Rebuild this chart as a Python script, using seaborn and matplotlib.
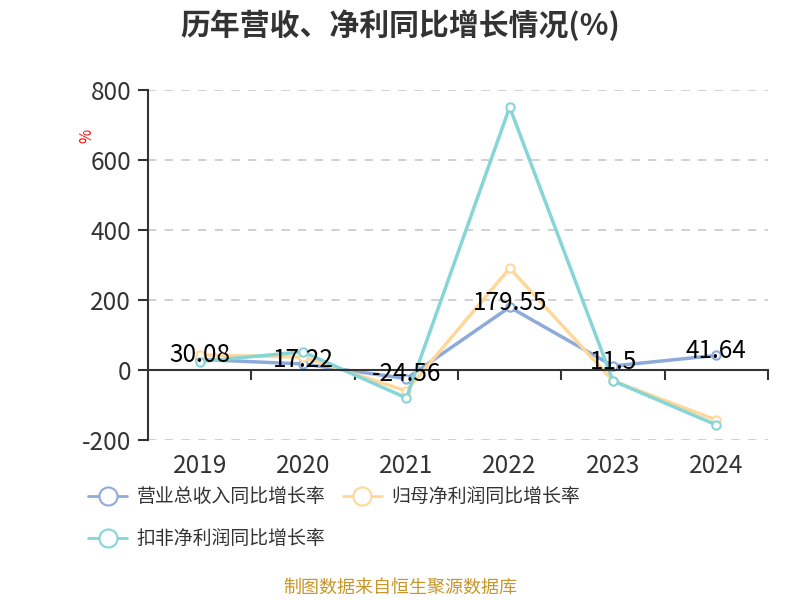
import pandas as pd
import matplotlib
matplotlib.use('Agg')
import matplotlib.pyplot as plt
import seaborn as sns
from matplotlib.lines import Line2D

# === DONNEES ===
years = ["2019", "2020", "2021", "2022", "2023", "2024"]
revenue_growth = [30.08, 17.22, -24.56, 179.55, 11.5, 41.64]
parent_profit_growth = [43, 37, -60, 291, -31, -143]
deducted_profit_growth = [24, 52, -80, 751, -31, -157]
series_names = ["营业总收入同比增长率", "归母净利润同比增长率", "扣非净利润同比增长率"]
colors = ["#8eaadb", "#ffd899", "#86d5d8"]
y_ticks = [-200, 0, 200, 400, 600, 800]

sns.set_style("white")
plt.rcParams["font.family"] = ["Noto Sans CJK SC", "DejaVu Sans"]

df = pd.DataFrame({
    "year": list(range(len(years))) * 3,
    "value": revenue_growth + parent_profit_growth + deducted_profit_growth,
    "serie": [s for s in series_names for _ in years],
})

fig = plt.figure(figsize=(8, 6), dpi=100)
ax = fig.add_axes([0.185, 0.2667, 0.775, 0.5833])

sns.lineplot(data=df, x="year", y="value", hue="serie", palette=colors,
             hue_order=series_names, linewidth=2.5, marker="o", markersize=6,
             markerfacecolor="white", markeredgewidth=1.5, legend=False, ax=ax)
# bord des marqueurs = couleur de la ligne
for line, c in zip(ax.lines, colors):
    line.set_markeredgecolor(c)

ax.set_xlim(-0.5, len(years) - 0.5)
ax.set_ylim(-200, 800)
ax.set_yticks(y_ticks)
ax.set_yticklabels([str(t) for t in y_ticks], fontsize=17.5, color="#333333")
for t in y_ticks:
    if t != 0:
        ax.axhline(t, color="#c8c8c8", linestyle=(0, (5, 5)), linewidth=1.2, zorder=0)

ax.spines["top"].set_visible(False)
ax.spines["right"].set_visible(False)
ax.spines["left"].set_color("#333333")
ax.spines["left"].set_linewidth(1.5)
ax.spines["bottom"].set_position(("data", 0))
ax.spines["bottom"].set_color("#333333")
ax.spines["bottom"].set_linewidth(1.5)

ax.set_xticks(range(len(years)))
ax.set_xticklabels([])
ax.tick_params(axis="x", which="major", length=0, bottom=True)
ax.set_xticks([i + 0.5 for i in range(len(years))], minor=True)
ax.tick_params(axis="x", which="minor", length=7, width=1.5, color="#333333",
               direction="out", bottom=True)
ax.tick_params(axis="y", length=7, width=1.5, color="#333333", direction="out",
               pad=5, left=True)
for i, yr in enumerate(years):
    ax.text(i, -0.075, yr, transform=ax.get_xaxis_transform(), ha="center", va="center",
            fontsize=17.5, color="#333333")

ax.set_xlabel("")
ax.set_ylabel("%", color="red", fontsize=11, rotation=90)
ax.yaxis.set_label_coords(-0.085, 0.87)

for i, v in enumerate(revenue_growth):
    ax.annotate(f"{v:g}", (i, v), xytext=(0, 3), textcoords="offset points",
                ha="center", va="center", fontsize=17.5, color="black")

fig.text(0.5, 0.958, "历年营收、净利同比增长情况(%)", ha="center", va="center",
         fontsize=21.5, fontweight="bold", color="#333333")

handles = [Line2D([0], [0], color=c, linewidth=2, marker="o", markersize=13,
                  markerfacecolor="white", markeredgewidth=1.5, markeredgecolor=c)
           for c in colors]
fig.legend(handles[:2], series_names[:2], loc="center left", bbox_to_anchor=(0.089, 0.172),
           bbox_transform=fig.transFigure, ncol=2, frameon=False, fontsize=13.6,
           handlelength=2.05, columnspacing=0.95, handletextpad=0.5, labelcolor="#333333")
fig.legend(handles[2:], series_names[2:], loc="center left", bbox_to_anchor=(0.089, 0.102),
           bbox_transform=fig.transFigure, frameon=False, fontsize=13.6,
           handlelength=2.05, handletextpad=0.5, labelcolor="#333333")

fig.text(0.5, 0.02, "制图数据来自恒生聚源数据库", ha="center", va="center",
         fontsize=13, color="#c8962a")

fig.savefig("out.png", dpi=100)
plt.close(fig)
